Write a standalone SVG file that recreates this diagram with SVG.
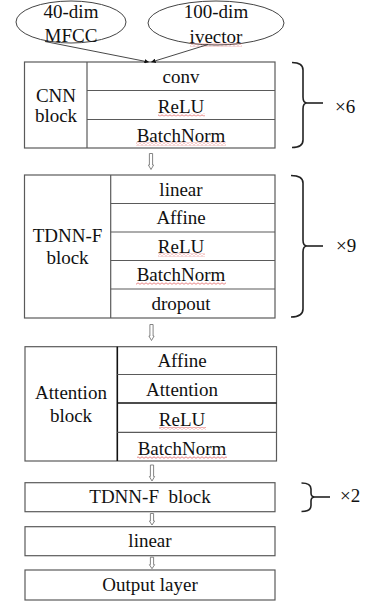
<svg xmlns="http://www.w3.org/2000/svg" width="367" height="604" viewBox="0 0 367 604">
  <defs>
    <style>
      text { font-family: "Liberation Serif", "Times New Roman", "DejaVu Serif", serif; font-size: 19px; fill: #111; }
      .c { text-anchor: middle; }
      .box { fill: #fff; stroke: #5a5a5a; stroke-width: 1.2; }
      .sep { stroke: #5a5a5a; stroke-width: 1.2; fill: none; }
      .dark { stroke: #111; stroke-width: 1.6; fill: none; }
      .ell { fill: #fff; stroke: #444; stroke-width: 1; }
      .brace { fill: none; stroke: #222; stroke-width: 1.6; }
      .flow { fill: #fff; stroke: #777; stroke-width: 0.9; }
      .feed { stroke: #333; stroke-width: 0.9; fill: none; }
      .wavy { fill: url(#squiggle); }
    </style>
    <!-- small hollow down arrows between stages -->
    <path id="down" d="M-1.6,0 H1.6 V11.5 H2.6 L0,16 L-2.6,11.5 H-1.6 Z"/>
    <path id="down-short" d="M-1.6,0 H1.6 V7.5 H2.6 L0,11.5 L-2.6,7.5 H-1.6 Z"/>
    <marker id="tip" viewBox="0 0 6 6" refX="5.5" refY="3" markerWidth="5" markerHeight="5" orient="auto">
      <path d="M0,0 L6,3 L0,6 Z" fill="#111"/>
    </marker>
    <!-- red spell-check underline -->
    <pattern id="squiggle" width="4" height="3" patternUnits="userSpaceOnUse">
      <path d="M0,2.3 L2,0.8 L4,2.3" fill="none" stroke="#e05050" stroke-width="0.7"/>
    </pattern>
  </defs>

  <!-- inputs -->
  <g id="mfcc">
    <ellipse class="ell" cx="71" cy="22" rx="55" ry="21"/>
    <text class="c" x="71" y="18">40-dim</text>
    <text class="c" x="71" y="41.5">MFCC</text>
  </g>
  <g id="ivector">
    <ellipse class="ell" cx="216" cy="23" rx="68" ry="22"/>
    <text class="c" x="216" y="18">100-dim</text>
    <text class="c" x="216" y="42.5">ivector</text>
    <rect class="wavy" x="190" y="43.5" width="52" height="3"/>
  </g>

  <!-- CNN block ×6 -->
  <g id="cnn">
    <rect class="box" x="24.5" y="62" width="250.5" height="86"/>
    <line class="sep" x1="87" y1="62" x2="87" y2="148"/>
    <line class="sep" x1="87" y1="90.5" x2="275" y2="90.5"/>
    <line class="sep" x1="87" y1="119.5" x2="275" y2="119.5"/>
    <text class="c" x="56" y="102">CNN</text>
    <text class="c" x="56" y="122">block</text>
    <text class="c" x="181" y="83">conv</text>
    <text class="c" x="181" y="112.5">ReLU</text>
    <text class="c" x="181" y="141.5">BatchNorm</text>
    <rect class="wavy" x="158" y="113.5" width="47" height="3"/>
    <rect class="wavy" x="136" y="142.5" width="90" height="3"/>
  </g>
  <g id="cnn-repeat">
    <path class="brace" d="M292,62.5 Q303,62.5 303,70 V97 Q303,103 307,103 Q303,103 303,109 V140 Q303,147.5 292,147.5"/>
    <line class="brace" x1="307" y1="103" x2="323" y2="103"/>
    <text x="335" y="112.5">×6</text>
  </g>

  <!-- TDNN-F block ×9 -->
  <g id="tdnnf">
    <rect class="box" x="24.5" y="175" width="250.5" height="143"/>
    <line class="sep" x1="110.7" y1="175" x2="110.7" y2="318"/>
    <line class="sep" x1="110.7" y1="203.5" x2="275" y2="203.5"/>
    <line class="sep" x1="110.7" y1="232" x2="275" y2="232"/>
    <line class="sep" x1="110.7" y1="260.5" x2="275" y2="260.5"/>
    <line class="sep" x1="110.7" y1="289" x2="275" y2="289"/>
    <text class="c" x="67.5" y="241.5">TDNN-F</text>
    <text class="c" x="67.5" y="264">block</text>
    <text class="c" x="181" y="195.5">linear</text>
    <text class="c" x="181" y="224">Affine</text>
    <text class="c" x="181" y="252.5">ReLU</text>
    <text class="c" x="181" y="281">BatchNorm</text>
    <text class="c" x="181" y="309.5">dropout</text>
    <rect class="wavy" x="158" y="253.5" width="47" height="3"/>
    <rect class="wavy" x="136" y="282" width="90" height="3"/>
  </g>
  <g id="tdnnf-repeat">
    <path class="brace" d="M291,175.5 Q303,175.5 303,183 V240 Q303,246 307,246 Q303,246 303,252 V309 Q303,317 291,317"/>
    <line class="brace" x1="307" y1="246" x2="323" y2="246"/>
    <text x="336" y="251.5">×9</text>
  </g>

  <!-- Attention block -->
  <g id="attention">
    <rect class="box" x="25" y="346.7" width="251.5" height="114.3"/>
    <line class="dark" x1="117.3" y1="346.7" x2="117.3" y2="461"/>
    <line class="sep" x1="117.3" y1="374.5" x2="276.5" y2="374.5"/>
    <line class="dark" x1="117.3" y1="403" x2="276.5" y2="403"/>
    <line class="sep" x1="117.3" y1="432.3" x2="276.5" y2="432.3"/>
    <text class="c" x="71" y="399">Attention</text>
    <text class="c" x="71" y="421.5">block</text>
    <text class="c" x="182" y="367">Affine</text>
    <text class="c" x="182" y="396">Attention</text>
    <text class="c" x="182" y="426">ReLU</text>
    <text class="c" x="182" y="455">BatchNorm</text>
    <rect class="wavy" x="159" y="427" width="47" height="3"/>
    <rect class="wavy" x="137" y="456" width="90" height="3"/>
  </g>

  <!-- TDNN-F block ×2 -->
  <g id="tdnnf-tail">
    <rect class="box" x="25" y="482.7" width="250" height="29"/>
    <text class="c" x="150" y="503.3">TDNN-F&#160; block</text>
  </g>
  <g id="tdnnf-tail-repeat">
    <path class="brace" d="M301.5,483 Q311,483 311,489 V493 Q311,497 315,497 Q311,497 311,501 V505.5 Q311,511.5 301.5,511.5"/>
    <line class="brace" x1="315" y1="497" x2="330" y2="497"/>
    <text x="340" y="501.7">×2</text>
  </g>

  <!-- output stack -->
  <g id="linear">
    <rect class="box" x="25" y="526.7" width="250" height="29"/>
    <text class="c" x="150" y="547">linear</text>
  </g>
  <g id="output">
    <rect class="box" x="25" y="570" width="250" height="30"/>
    <text class="c" x="150" y="590.7">Output layer</text>
  </g>

  <!-- connectors -->
  <g id="connectors">
    <line class="feed" x1="45" y1="41.5" x2="148.5" y2="62" marker-end="url(#tip)"/>
    <line class="feed" x1="208" y1="44.5" x2="151.5" y2="62" marker-end="url(#tip)"/>
    <use href="#down" class="flow" x="151" y="153.5"/>
    <use href="#down" class="flow" x="151.5" y="324.5"/>
    <use href="#down" class="flow" x="152" y="465"/>
    <use href="#down-short" class="flow" x="152" y="513.5"/>
    <use href="#down-short" class="flow" x="152" y="557.2"/>
  </g>
</svg>
